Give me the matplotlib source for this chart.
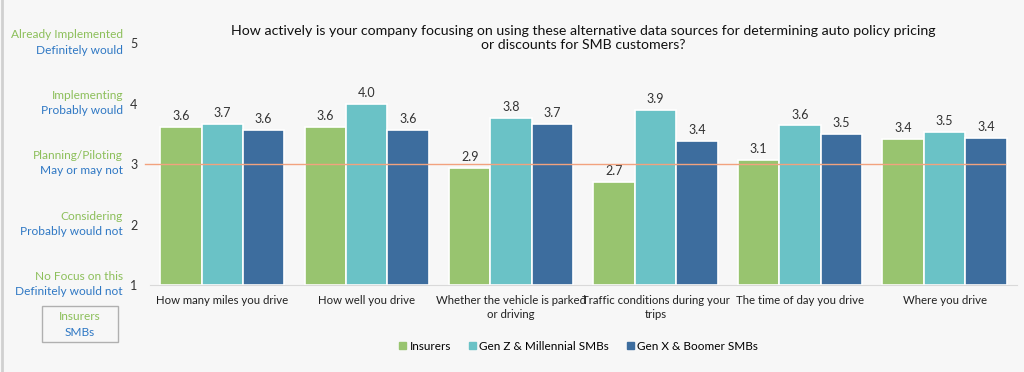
import numpy as np
import matplotlib.pyplot as plt
from matplotlib.patches import Rectangle
from matplotlib.lines import Line2D

# survey results (mean score, 1-5)
categories = ['How many miles you drive', 'How well you drive',
              'Whether the vehicle is parked\nor driving', 'Traffic conditions during your\ntrips',
              'The time of day you drive', 'Where you drive']
insurers = [3.61, 3.61, 2.94, 2.71, 3.07, 3.41]
gen_z = [3.67, 4.00, 3.76, 3.89, 3.64, 3.53]
gen_x = [3.56, 3.56, 3.67, 3.38, 3.50, 3.43]
series_names = ['Insurers', 'Gen Z & Millennial SMBs', 'Gen X & Boomer SMBs']
insurer_levels = ['No Focus on this', 'Considering', 'Planning/Piloting', 'Implementing', 'Already Implemented']
smb_levels = ['Definitely would not', 'Probably would not', 'May or may not', 'Probably would', 'Definitely would']
ticks = [1, 2, 3, 4, 5]

colors = ['#98c46f', '#6ac2c6', '#3d6d9e']
green_txt = '#8cbf5a'
blue_txt = '#2f78c4'
bg = '#f7f7f7'
plt.rcParams['font.family'] = ['Lato', 'DejaVu Sans']

fig = plt.figure(figsize=(10.24, 3.72), dpi=100, facecolor=bg)
ax = fig.add_axes([0.1465, 0.234, 0.8465, 0.65])
ax.set_facecolor(bg)

x = np.arange(len(categories))
w = 0.287
for i, vals in enumerate([insurers, gen_z, gen_x]):
    bars = ax.bar(x + (i - 1) * w, np.array(vals) - 1, w, bottom=1, color=colors[i],
                  edgecolor='white', linewidth=1.2, label=series_names[i], zorder=2)
    for b, v in zip(bars, vals):
        ax.text(b.get_x() + b.get_width() / 2, v + 0.08, f'{v:.1f}', ha='center', va='bottom',
                fontsize=9, color='#333333')

ax.set_xlim(-0.5, len(categories) - 0.5)
ax.set_ylim(1, 5)
ax.set_yticks(ticks)
ax.set_yticklabels([str(t) for t in ticks], fontsize=9, color='#333333')
ax.tick_params(axis='y', length=0, pad=9)
ax.set_xticks(x)
ax.set_xticklabels(categories, fontsize=8.2, color='#222222', linespacing=1.35)
ax.tick_params(axis='x', length=0, pad=7)
for s in ['top', 'right', 'left']:
    ax.spines[s].set_visible(False)
ax.spines['bottom'].set_color('#d9d9d9')

# reference line at 3
ax.plot([-0.535, 5.42], [3, 3], color='#f2a27e', linewidth=1, zorder=3, clip_on=False)

# scale labels on the left
for t, a, b in zip(ticks, insurer_levels, smb_levels):
    ax.annotate(a, xy=(0, t), xycoords=('axes fraction', 'data'), xytext=(-19.5, 2),
                textcoords='offset points', ha='right', va='bottom', fontsize=8.6, color=green_txt)
    ax.annotate(b, xy=(0, t), xycoords=('axes fraction', 'data'), xytext=(-19.5, -1),
                textcoords='offset points', ha='right', va='top', fontsize=8.6, color=blue_txt)

# key box
fig.patches.append(Rectangle((42 / 1024, 1 - 342 / 372), 76 / 1024, 36 / 372, transform=fig.transFigure,
                             facecolor='none', edgecolor='#b0b0b0', linewidth=1))
fig.text(80 / 1024, 1 - 316 / 372, 'Insurers', ha='center', va='center', fontsize=8.6, color=green_txt)
fig.text(80 / 1024, 1 - 332 / 372, 'SMBs', ha='center', va='center', fontsize=8.6, color=blue_txt)

# left border
fig.add_artist(Line2D([2 / 1024, 2 / 1024], [0, 1], transform=fig.transFigure, color='#d0d0d0', linewidth=2))

fig.text(0.5695, 1 - 38 / 372,
         'How actively is your company focusing on using these alternative data sources for determining auto policy pricing\nor discounts for SMB customers?',
         ha='center', va='center', fontsize=10.2, color='#111111', linespacing=1.2)

handles = [Rectangle((0, 0), 1, 1, color=c) for c in colors]
fig.legend(handles, series_names, loc='center', bbox_to_anchor=(0.565, 1 - 346 / 372), ncol=3,
           frameon=False, fontsize=8.5, handlelength=0.6, handleheight=0.6, handletextpad=0.3,
           columnspacing=1.5)

fig.savefig('out.png', dpi=100, facecolor=bg)
